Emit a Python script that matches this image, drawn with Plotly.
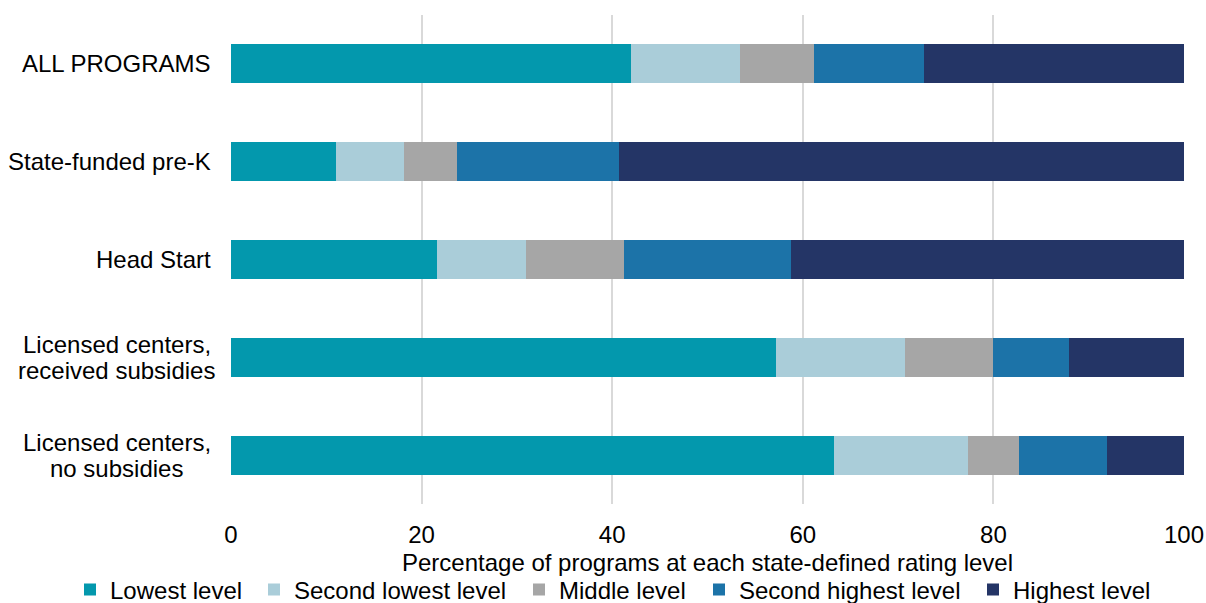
import plotly.graph_objects as go

categories = ["ALL PROGRAMS", "State-funded pre-K", "Head Start",
              "Licensed centers,<br>received subsidies", "Licensed centers,<br>no subsidies"]
series_names = ["Lowest level", "Second lowest level", "Middle level",
                "Second highest level", "Highest level"]
lowest = [42.0, 11.0, 21.6, 57.2, 63.3]
second_lowest = [11.4, 7.2, 9.4, 13.5, 14.0]
middle = [7.8, 5.5, 10.2, 9.3, 5.4]
second_highest = [11.5, 17.0, 17.6, 7.9, 9.2]
highest = [27.3, 59.3, 41.2, 12.1, 8.1]
colors = ["#0398AD", "#AACDD9", "#A6A6A6", "#1C73A8", "#243566"]
x_ticks = [0, 20, 40, 60, 80, 100]
x_title = "Percentage of programs at each state-defined rating level"

FONT = "Liberation Sans, Arial, sans-serif"
W, H = 1206, 603
legend_text_x = [107, 291, 556, 736, 1010]   # px where legend texts start

fig = go.Figure()
for i, (name, vals, col) in enumerate(zip(series_names,
                           [lowest, second_lowest, middle, second_highest, highest],
                           colors)):
    lg = "legend" if i == 0 else f"legend{i + 1}"
    fig.add_trace(go.Bar(y=categories, x=vals, name=name, orientation="h",
                         legend=lg,
                         marker=dict(color=col, line=dict(width=0))))
    x0 = (legend_text_x[i] - 37) / W
    fig.update_layout({lg: dict(orientation="h", xref="container", yref="container",
                                x=x0, xanchor="left", y=1 - 590 / H,
                                yanchor="middle", font=dict(size=24),
                                itemwidth=30, bgcolor="rgba(0,0,0,0)",
                                borderwidth=0)})

for cat in categories:
    lines = cat.split("<br>")
    if len(lines) == 1:
        fig.add_annotation(x=0, xref="paper", y=cat, yref="y", text=cat,
                           xanchor="right", yanchor="middle", xshift=-18,
                           showarrow=False,
                           font=dict(family=FONT, size=24, color="#000000"))
    else:
        fig.add_annotation(x=0, xref="paper", y=cat, yref="y", text=lines[0],
                           xanchor="right", yanchor="middle", xshift=-18, yshift=13,
                           showarrow=False,
                           font=dict(family=FONT, size=24, color="#000000"))
        fig.add_annotation(x=0, xref="paper", y=cat, yref="y", text=lines[1],
                           xanchor="center", yanchor="middle", xshift=-115, yshift=-13,
                           showarrow=False,
                           font=dict(family=FONT, size=24, color="#000000"))

# x-axis title
fig.add_annotation(x=0.5, xref="paper", y=0, yref="paper", text=x_title,
                   xanchor="center", yanchor="middle", yshift=-58, showarrow=False,
                   font=dict(family=FONT, size=24, color="#000000"))

fig.update_layout(
    barmode="stack",
    width=W, height=H,
    margin=dict(l=231, r=22, t=15, b=99),
    paper_bgcolor="white", plot_bgcolor="white",
    font=dict(family=FONT, size=24, color="#000000"),
    bargap=0.6,
    showlegend=True,
    xaxis=dict(range=[0, 100], tickvals=x_ticks, showgrid=True, gridcolor="#D9D9D9",
               gridwidth=2, zeroline=False, ticks="", ticklen=0, automargin=False,
               ticklabelstandoff=14, tickfont=dict(size=24)),
    yaxis=dict(autorange="reversed", showgrid=False, ticks="", showticklabels=False,
               automargin=False),
)

fig.write_html("out.html", config={"displayModeBar": False},
               post_script="document.body.style.margin='0';document.body.style.overflow='hidden';")
